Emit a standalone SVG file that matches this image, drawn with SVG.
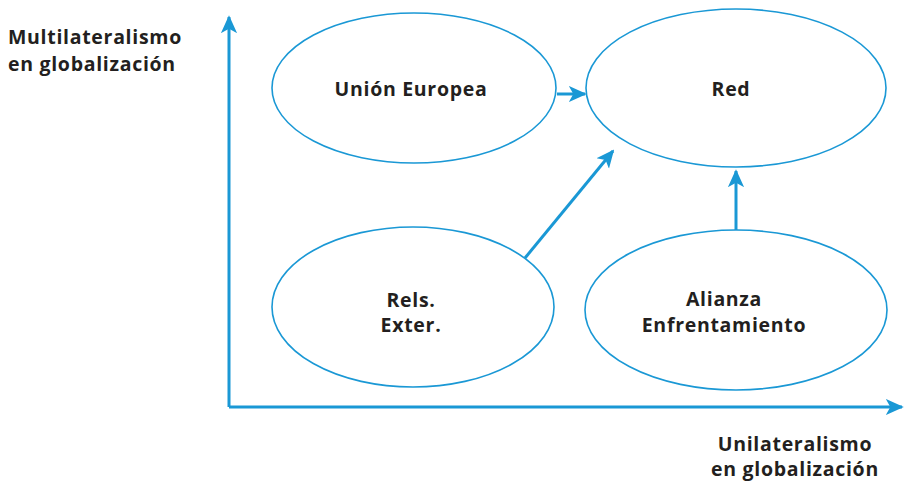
<svg xmlns="http://www.w3.org/2000/svg" width="905" height="482" viewBox="0 0 905 482">
<style>
.n{fill:none;stroke:#1a98d5;stroke-width:1.6}
.c{stroke:#1a98d5;stroke-width:3;fill:none}
.t{font-family:"Open Sans","Noto Sans",sans-serif;font-weight:bold;font-size:19.5px;letter-spacing:0.7px;fill:#231f20}
.m{text-anchor:middle}
</style>
<defs>
<marker id="a" viewBox="0 0 10 10" refX="9" refY="5" markerWidth="6" markerHeight="6" orient="auto" markerUnits="strokeWidth">
<path d="M0,0.5 L10,5 L0,9.5 L2.5,5 Z" fill="#1a98d5"/>
</marker>
</defs>
<g id="connectors">
<polyline class="c" points="229,407 229,17" marker-end="url(#a)"/>
<line class="c" x1="229" y1="407" x2="902" y2="407" marker-end="url(#a)"/>
<line class="c" x1="557" y1="94" x2="585" y2="94" marker-end="url(#a)"/>
<line class="c" x1="525" y1="258" x2="613" y2="151" marker-end="url(#a)"/>
<line class="c" x1="736" y1="230" x2="736" y2="171" marker-end="url(#a)"/>
</g>
<g id="ue"><ellipse class="n" cx="414" cy="88" rx="142" ry="75"/><text class="t m" x="411" y="96">Unión Europea</text></g>
<g id="red"><ellipse class="n" cx="736" cy="88" rx="150" ry="79"/><text class="t m" x="731" y="96">Red</text></g>
<g id="rels"><ellipse class="n" cx="413" cy="307" rx="141" ry="80"/><text class="t m" x="411" y="307">Rels.</text><text class="t m" x="411" y="332">Exter.</text></g>
<g id="alianza"><ellipse class="n" cx="736" cy="310" rx="151" ry="80"/><text class="t m" x="724" y="306">Alianza</text><text class="t m" x="724" y="332">Enfrentamiento</text></g>
<g id="labels">
<text class="t" x="8" y="44">Multilateralismo</text>
<text class="t" x="8" y="71">en globalización</text>
<text class="t m" x="795" y="451">Unilateralismo</text>
<text class="t m" x="795" y="476">en globalización</text>
</g>
</svg>
